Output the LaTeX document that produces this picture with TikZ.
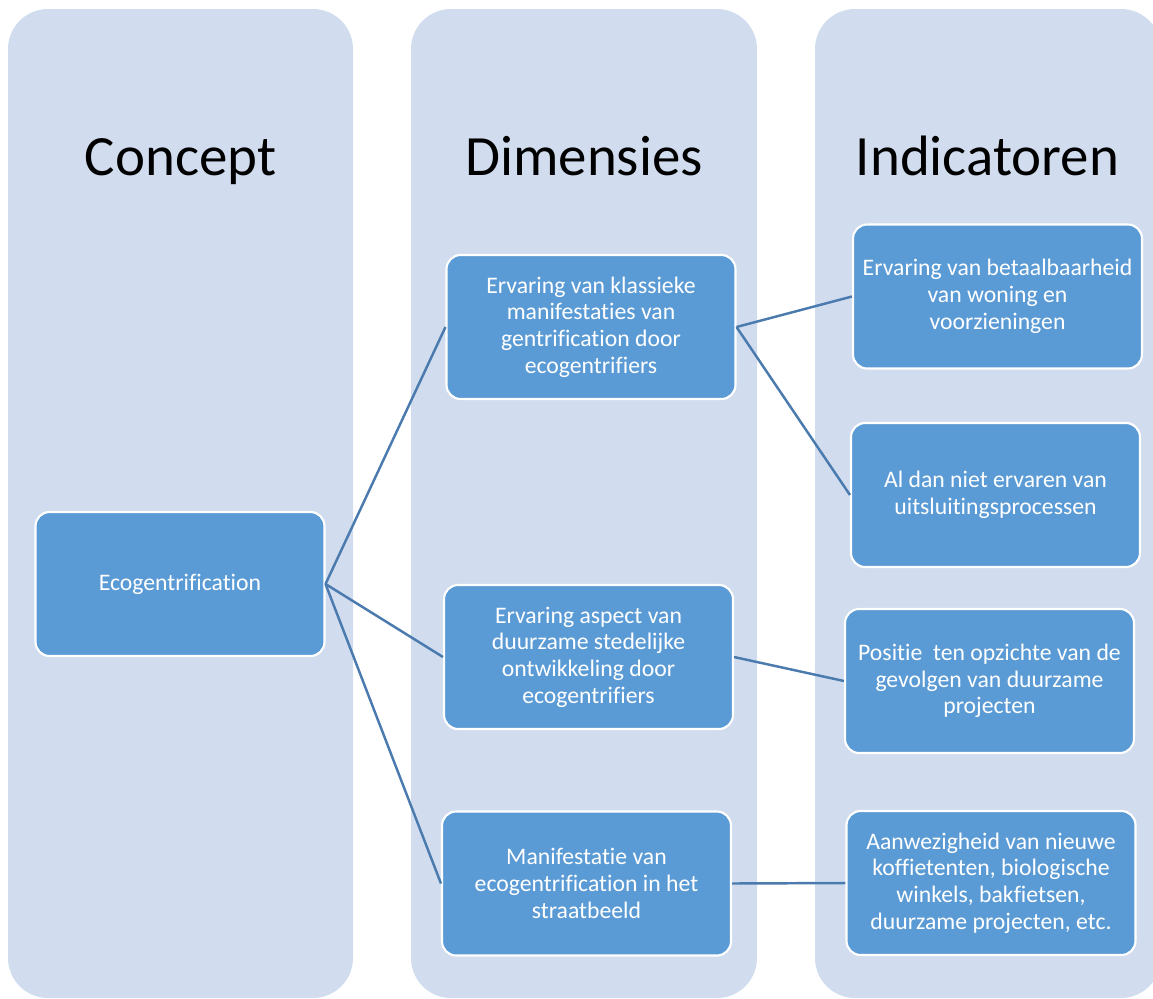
\documentclass[tikz,border=0pt]{standalone}
\usepackage{fontspec}
\setmainfont{Carlito}[Ligatures=NoCommon]
\usepackage{tikz}
\definecolor{colbg}{HTML}{D1DDEE}
\definecolor{boxfill}{HTML}{5B9BD5}
\definecolor{linkblue}{HTML}{4A7AAE}
\tikzset{
    column/.style={fill=colbg, rounded corners=0.8cm},
    header/.style={anchor=base, font=\fontsize{32.4}{38}\selectfont},
    itembox/.style={rectangle, rounded corners=0.28cm, fill=boxfill, draw=white,
        line width=1.2pt, minimum width=5.78cm, minimum height=2.88cm,
        align=center, text=white, inner sep=2pt,
        font=\fontsize{13.5}{15.2}\selectfont},
    link/.style={linkblue, line width=1.4pt}
}

\begin{document}
\begin{tikzpicture}[x=0.02cm, y=-0.02cm]
    % Fix the page size
    \useasboundingbox (0,0) rectangle (1153,998);
    \clip (0,0) rectangle (1153,998);

    % Draw the three columns
    \fill[column] (8,9) rectangle (353,998);
    \fill[column] (411,9) rectangle (757,998);
    \fill[column] (815,9) rectangle (1161,998);

    % Column headers
    \node[header] (hconcept) at (180.5,175) {Concept};
    \node[header] (hdim) at (584,175) {Dimensies};
    \node[header] (hind) at (987.5,175) {Indicatoren};

    % Concept
    \node[itembox] (eco) at (180,584) {Ecogentrification};

    % Dimensions
    \node[itembox] (dimA) at (591,327) {Ervaring van klassieke\\manifestaties van\\gentrification door\\ecogentrifiers};
    \node[itembox] (dimB) at (588.5,657) {Ervaring aspect van\\duurzame stedelijke\\ontwikkeling door\\ecogentrifiers};
    \node[itembox] (dimC) at (586.5,883.5) {Manifestatie van\\ecogentrification in het\\straatbeeld};

    % Indicators
    \node[itembox] (indA) at (997.5,296.5) {Ervaring van betaalbaarheid\\van woning en\\voorzieningen};
    \node[itembox] (indB) at (995.5,495) {Al dan niet ervaren van\\uitsluitingsprocessen};
    \node[itembox] (indC) at (989.5,681) {Positie\ \ ten opzichte van de\\gevolgen van duurzame\\projecten};
    \node[itembox] (indD) at (991,883) {Aanwezigheid van nieuwe\\koffietenten, biologische\\winkels, bakfietsen,\\duurzame projecten, etc.};

    % Connect concept to dimensions
    \draw[link] (eco.east) -- (dimA.west);
    \draw[link] (eco.east) -- (dimB.west);
    \draw[link] (eco.east) -- (dimC.west);

    % Connect dimensions to indicators
    \draw[link] (dimA.east) -- (indA.west);
    \draw[link] (dimA.east) -- (indB.west);
    \draw[link] (dimB.east) -- (indC.west);
    \draw[link] (dimC.east) -- (indD.west);
\end{tikzpicture}
\end{document}
